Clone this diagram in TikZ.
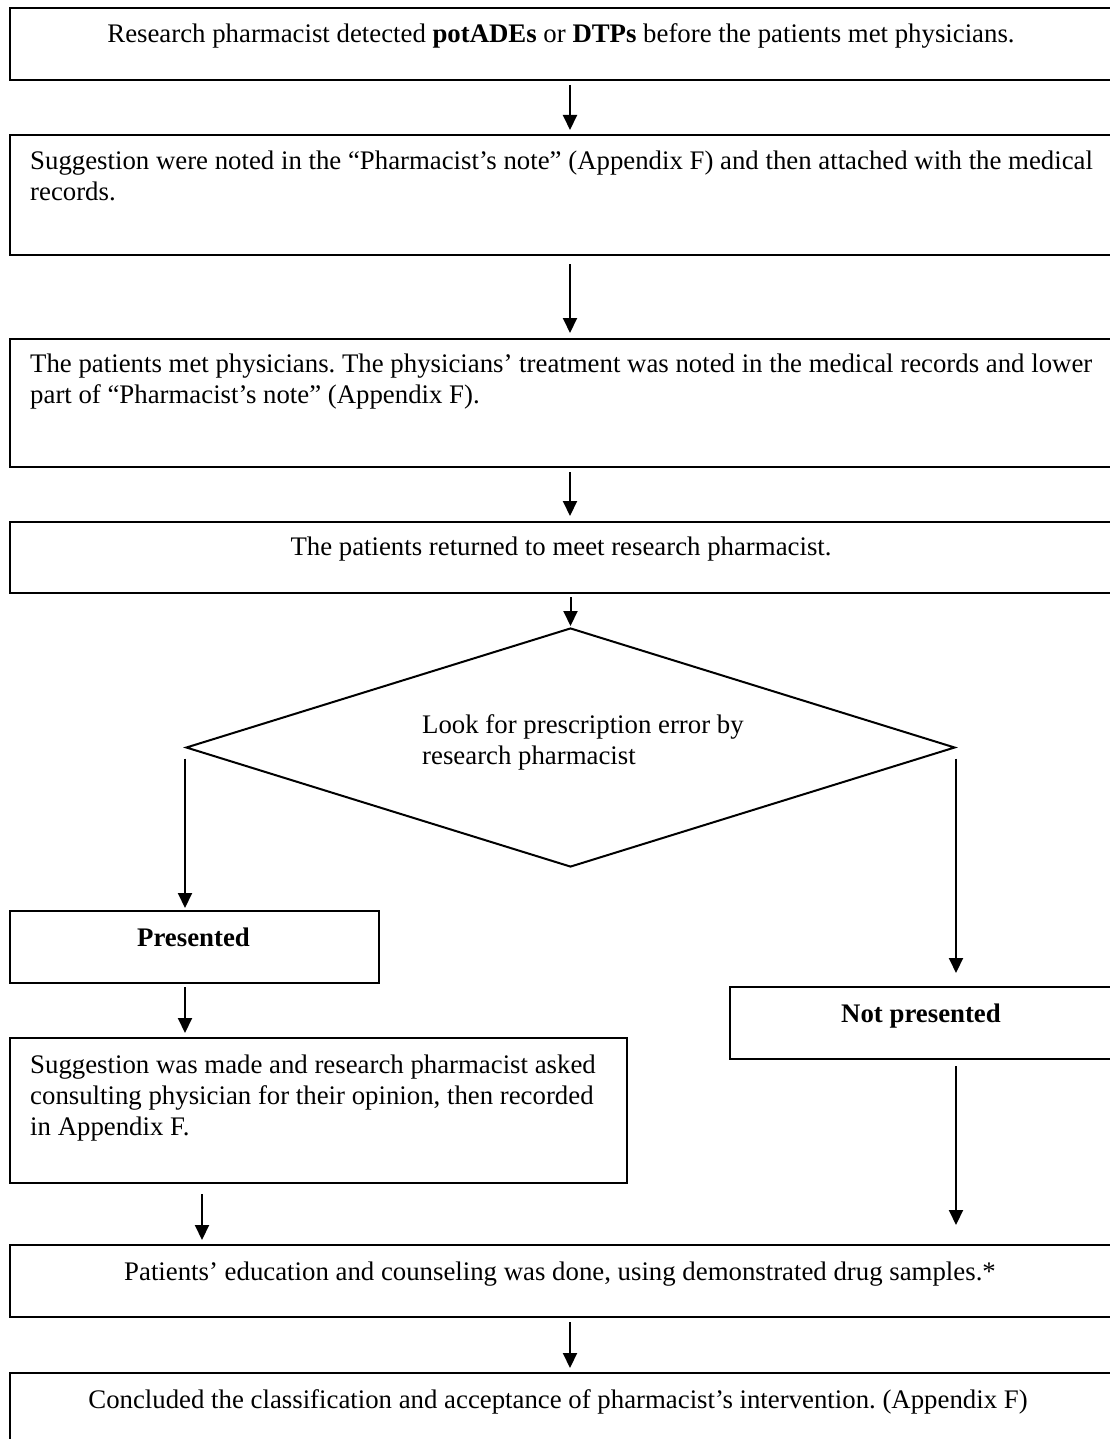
\documentclass[tikz,border=0pt]{standalone}
\usepackage{fontspec}
\setmainfont{Liberation Serif}
\frenchspacing
\usetikzlibrary{arrows.meta,shapes.geometric}
\begin{document}
\begin{tikzpicture}[x=1pt,y=-1pt,
  font=\fontsize{26.8}{31}\selectfont\frenchspacing,
  box/.style={draw,line width=2pt,rectangle,inner sep=0pt,anchor=north west},
  diam/.style={draw,line width=2pt,diamond,inner sep=0pt},
  ltext/.style={anchor=base west,align=flush left,text width=1300pt,inner sep=0pt},
  ctext/.style={anchor=base,align=center,inner sep=0pt},
  arr/.style={line width=2pt,-{Triangle[length=15pt,width=14pt]}}]
\useasboundingbox (0,0) rectangle (1110,1439);
\clip (0,0) rectangle (1110,1439);

% boxes
\node[box,minimum width=1105pt,minimum height=72pt]  (b1)   at (9,7) {};
\node[box,minimum width=1105pt,minimum height=120pt] (b2)   at (9,134) {};
\node[box,minimum width=1105pt,minimum height=128pt] (b3)   at (9,338) {};
\node[box,minimum width=1105pt,minimum height=71pt]  (b4)   at (9,521) {};
\node[diam,minimum width=769pt,minimum height=239pt] (d)    at (570.5,747.5) {};
\node[box,minimum width=369pt,minimum height=72pt]   (pres) at (9,910) {};
\node[box,minimum width=385pt,minimum height=72pt]   (np)   at (729,986) {};
\node[box,minimum width=617pt,minimum height=145pt]  (sugg) at (9,1037) {};
\node[box,minimum width=1105pt,minimum height=72pt]  (edu)  at (9,1244) {};
\node[box,minimum width=1105pt,minimum height=80pt]  (fin)  at (9,1372) {};

% texts
\node[ctext] (t1) at (561,43) {Research pharmacist detected \textbf{potADEs} or \textbf{DTPs} before the patients met physicians.};
\node[ltext] (t2) at (30,170) {Suggestion were noted in the “Pharmacist’s note” (Appendix F) and then attached with the medical\\records.};
\node[ltext] (t3) at (30,372) {The patients met physicians. The physicians’ treatment was noted in the medical records and lower\\part of “Pharmacist’s note” (Appendix F).};
\node[ctext] (t4) at (561,555) {The patients returned to meet research pharmacist.};
\node[ltext] (td) at (422,733) {Look for prescription error by\\research pharmacist};
\node[ctext] (tp) at (193.5,946) {\textbf{Presented}};
\node[ctext] (tn) at (921,1022) {\textbf{Not presented}};
\node[ltext] (ts) at (30,1073) {Suggestion was made and research pharmacist asked\\consulting physician for their opinion, then recorded\\in Appendix F.};
\node[ctext] (te) at (560,1280) {Patients’ education and counseling was done, using demonstrated drug samples.*};
\node[ctext] (tf) at (558,1408) {Concluded the classification and acceptance of pharmacist’s intervention. (Appendix F)};

% connectors
\coordinate (mid) at (570,0);
\coordinate (lcol) at (202,0);
\draw[arr,shorten <=4pt,shorten >=4pt] (b1.south -| mid) -- (b2.north -| mid);
\draw[arr,shorten <=8pt,shorten >=5pt] (b2.south -| mid) -- (b3.north -| mid);
\draw[arr,shorten <=4pt,shorten >=5pt] (b3.south -| mid) -- (b4.north -| mid);
\draw[arr,shorten <=3pt,shorten >=1pt] (b4.south -| d.north) -- (d.north);
\draw[arr,shorten >=2pt] ([shift={(0,11)}]d.west) -- (pres.north -| d.west);
\draw[arr,shorten >=13pt] ([shift={(0,11)}]d.east) -- (np.north -| d.east);
\draw[arr,shorten <=3pt,shorten >=4pt] (pres.south -| d.west) -- (sugg.north -| d.west);
\draw[arr,shorten <=10pt,shorten >=4pt] (sugg.south -| lcol) -- (edu.north -| lcol);
\draw[arr,shorten <=6pt,shorten >=19pt] (np.south -| d.east) -- (edu.north -| d.east);
\draw[arr,shorten <=4pt,shorten >=4pt] (edu.south -| mid) -- (fin.north -| mid);
\end{tikzpicture}
\end{document}
